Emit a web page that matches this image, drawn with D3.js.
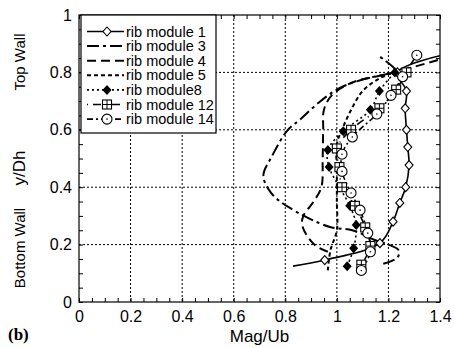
<!DOCTYPE html>
<html>
<head>
<meta charset="utf-8">
<script src="https://cdn.jsdelivr.net/npm/d3@7"></script>
<style>
  body { margin: 0; background: #fff; }
  text { font-family: "Liberation Sans", Arial, sans-serif; fill: #000; }
</style>
</head>
<body>
<div id="chart"></div>
<script>
// data (x = Mag/Ub, y = y/Dh)
var rib1 = [[0.83,0.125],[0.953,0.146],[1.167,0.205],[1.218,0.28],[1.244,0.345],[1.267,0.40],[1.28,0.477],
            [1.275,0.54],[1.27,0.60],[1.265,0.675],[1.27,0.735],[1.235,0.80],[1.4,0.858]];
var rib1Marked = [false,true,true,true,true,true,true,true,true,true,true,true,false];
var rib3 = [[1.18,0.133],[1.235,0.155],[1.24,0.18],[1.2,0.2],[1.15,0.215],[1.06,0.25],[0.97,0.262],[0.81,0.332],
            [0.745,0.38],[0.715,0.44],[0.747,0.506],[0.81,0.60],[0.855,0.634],[0.934,0.698],[1.01,0.745],
            [1.1,0.775],[1.2,0.795],[1.235,0.80],[1.167,0.855]];
var rib4 = [[0.965,0.175],[0.92,0.195],[0.885,0.23],[0.865,0.27],[0.87,0.30],[0.91,0.35],[0.94,0.40],[0.945,0.5],
            [0.947,0.6],[0.95,0.67],[0.98,0.72],[1.06,0.765],[1.2,0.795],[1.4,0.845]];
var rib5 = [[0.965,0.11],[0.975,0.18],[1.0,0.25],[1.0,0.35],[1.0,0.45],[1.0,0.55],[1.02,0.60],[1.05,0.66],
            [1.1,0.735],[1.167,0.78],[1.22,0.80]];
var rib8 = [[1.04,0.125],[1.065,0.187],[1.075,0.268],[1.05,0.335],[1.01,0.40],[0.97,0.47],[0.965,0.53],
            [1.025,0.595],[1.13,0.67],[1.165,0.735],[1.225,0.80]];
var rib12 = [[1.095,0.13],[1.13,0.195],[1.11,0.26],[1.07,0.335],[1.02,0.40],[1.01,0.47],[1.0,0.535],
             [1.055,0.60],[1.165,0.675],[1.23,0.74],[1.27,0.80]];
var rib14 = [[1.095,0.11],[1.13,0.175],[1.12,0.24],[1.09,0.32],[1.055,0.38],[1.02,0.455],[1.02,0.515],
             [1.06,0.575],[1.155,0.655],[1.21,0.72],[1.255,0.785],[1.31,0.86]];

var seriesNames = ["rib module 1","rib module 3","rib module 4","rib module 5","rib module8","rib module 12","rib module 14"];
var xTicks = [0,0.2,0.4,0.6,0.8,1,1.2,1.4];
var yTicks = [0,0.2,0.4,0.6,0.8,1];

var series = [
  {name: seriesNames[0], data: rib1, marked: rib1Marked, dash: null, marker: "diamond", width: 1.6},
  {name: seriesNames[1], data: rib3, dash: "12,4,3,4", marker: null, width: 2},
  {name: seriesNames[2], data: rib4, dash: "9,5", marker: null, width: 2},
  {name: seriesNames[3], data: rib5, dash: "4,3", marker: null, width: 2},
  {name: seriesNames[4], data: rib8, dash: "2,3", marker: "fdiamond", width: 1.6},
  {name: seriesNames[5], data: rib12, dash: "1,5,8,5", marker: "square", width: 1.6},
  {name: seriesNames[6], data: rib14, dash: "6,3,2,3", marker: "circle", width: 1.6}
];

var width = 454, height = 348;
var margin = {top: 15, right: 14, bottom: 46, left: 79};
var w = width - margin.left - margin.right,
    h = height - margin.top - margin.bottom;

var svg = d3.select("#chart").append("svg")
    .attr("width", width)
    .attr("height", height);

var x = d3.scaleLinear().domain([0, 1.4]).range([0, w]);
var y = d3.scaleLinear().domain([0, 1]).range([h, 0]);

var g = svg.append("g")
    .attr("transform", "translate(" + margin.left + "," + margin.top + ")");

// grid
g.selectAll(".gx").data(xTicks.slice(1, -1)).enter().append("line")
    .attr("x1", function(d) { return x(d); }).attr("x2", function(d) { return x(d); })
    .attr("y1", 0).attr("y2", h)
    .attr("stroke", "#000").attr("stroke-width", 1).attr("stroke-dasharray", "2,2");
g.selectAll(".gy").data(yTicks.slice(1, -1)).enter().append("line")
    .attr("y1", function(d) { return y(d); }).attr("y2", function(d) { return y(d); })
    .attr("x1", 0).attr("x2", w)
    .attr("stroke", "#000").attr("stroke-width", 1).attr("stroke-dasharray", "2,2");

// axes with inward minor ticks
var minorX = d3.range(0, 1.401, 0.05), minorY = d3.range(0, 1.001, 0.05);
function axisStyle(sel) {
  sel.select(".domain").remove();
  sel.selectAll(".tick line").attr("stroke", "#000");
  sel.selectAll("text").style("font-size", "16px").attr("fill", "#000");
}
g.append("g").attr("transform", "translate(0," + h + ")")
    .call(d3.axisBottom(x).tickValues(minorX).tickSizeInner(-4).tickSizeOuter(0).tickFormat(""))
    .call(axisStyle);
g.append("g")
    .call(d3.axisTop(x).tickValues(minorX).tickSizeInner(-4).tickSizeOuter(0).tickFormat(""))
    .call(axisStyle);
g.append("g")
    .call(d3.axisLeft(y).tickValues(minorY).tickSizeInner(-4).tickSizeOuter(0).tickFormat(""))
    .call(axisStyle);
g.append("g").attr("transform", "translate(" + w + ",0)")
    .call(d3.axisRight(y).tickValues(minorY).tickSizeInner(-4).tickSizeOuter(0).tickFormat(""))
    .call(axisStyle);

// tick labels
g.append("g").attr("transform", "translate(0," + h + ")")
    .call(d3.axisBottom(x).tickValues(xTicks).tickSize(0).tickPadding(9).tickFormat(d3.format("")))
    .call(axisStyle);
g.append("g")
    .call(d3.axisLeft(y).tickValues(yTicks).tickSize(0).tickPadding(7).tickFormat(d3.format("")))
    .call(axisStyle);

g.append("rect").attr("width", w).attr("height", h)
    .attr("fill", "none").attr("stroke", "#000").attr("stroke-width", 1.2);

// curves
var line = d3.line()
    .x(function(d) { return x(d[0]); })
    .y(function(d) { return y(d[1]); })
    .curve(d3.curveCatmullRom.alpha(0.5));

svg.append("clipPath").attr("id", "clip").append("rect").attr("width", w).attr("height", h);

var plot = g.append("g").attr("clip-path", "url(#clip)");

plot.selectAll(".curve").data(series).enter().append("path")
    .attr("fill", "none")
    .attr("stroke", "#000")
    .attr("stroke-width", function(d) { return d.width; })
    .attr("stroke-dasharray", function(d) { return d.dash; })
    .attr("d", function(d) { return line(d.data); });

function drawMarker(sel, type) {
  if (type === "diamond") {
    sel.append("path").attr("d", "M0,-4.5L4,0L0,4.5L-4,0Z").attr("fill", "#fff").attr("stroke", "#000").attr("stroke-width", 1.1);
  } else if (type === "fdiamond") {
    sel.append("path").attr("d", "M0,-5L4.5,0L0,5L-4.5,0Z").attr("fill", "#000");
  } else if (type === "square") {
    sel.append("rect").attr("x", -4.5).attr("y", -4.5).attr("width", 9).attr("height", 9)
        .attr("fill", "#fff").attr("stroke", "#000").attr("stroke-width", 1.1);
    sel.append("path").attr("d", "M-4.5,0H4.5M0,-4.5V4.5").attr("stroke", "#000").attr("stroke-width", 1);
  } else if (type === "circle") {
    sel.append("circle").attr("r", 5).attr("fill", "#fff").attr("stroke", "#000").attr("stroke-width", 1.1);
    sel.append("circle").attr("r", 0.8).attr("fill", "#000");
  }
}

series.forEach(function(s) {
  if (!s.marker) return;
  var pts = plot.append("g").selectAll("g")
      .data(s.data.filter(function(d, i) { return !s.marked || s.marked[i]; }))
      .enter().append("g")
      .attr("transform", function(d) { return "translate(" + x(d[0]) + "," + y(d[1]) + ")"; });
  pts.each(function() { drawMarker(d3.select(this), s.marker); });
});

// legend
var lg = g.append("g").attr("transform", "translate(2,0)");
lg.append("rect").attr("width", 135).attr("height", 118)
    .attr("fill", "#fff").attr("stroke", "#000").attr("stroke-width", 1.2);
var row = lg.selectAll(".row").data(series).enter().append("g")
    .attr("transform", function(d, i) { return "translate(0," + (16.5 + i * 14.6) + ")"; });
row.append("line").attr("x1", 6).attr("x2", 43).attr("y1", 0).attr("y2", 0)
    .attr("stroke", "#000")
    .attr("stroke-width", function(d) { return d.width; })
    .attr("stroke-dasharray", function(d) { return d.dash; });
row.each(function(d) {
  if (d.marker) {
    var m = d3.select(this).append("g").attr("transform", "translate(26,0)");
    drawMarker(m, d.marker);
  }
});
row.append("text").attr("x", 45).attr("y", 5)
    .style("font-size", "14.5px")
    .text(function(d) { return d.name; });

// axis titles
svg.append("text").attr("x", margin.left + x(0.7)).attr("y", 342)
    .attr("text-anchor", "middle").style("font-size", "17px").text("Mag/Ub");
svg.append("text").attr("x", 8).attr("y", 340)
    .style("font-family", "'Liberation Serif', serif").style("font-weight", "bold").style("font-size", "17px").text("(b)");
function vLabel(txt, cy, size) {
  svg.append("text").attr("transform", "translate(25," + cy + ") rotate(-90)")
      .attr("text-anchor", "middle").style("font-size", size).text(txt);
}
vLabel("Top Wall", 62, "15px");
vLabel("y/Dh", 168, "17px");
vLabel("Bottom Wall", 248, "15px");
</script>
</body>
</html>
